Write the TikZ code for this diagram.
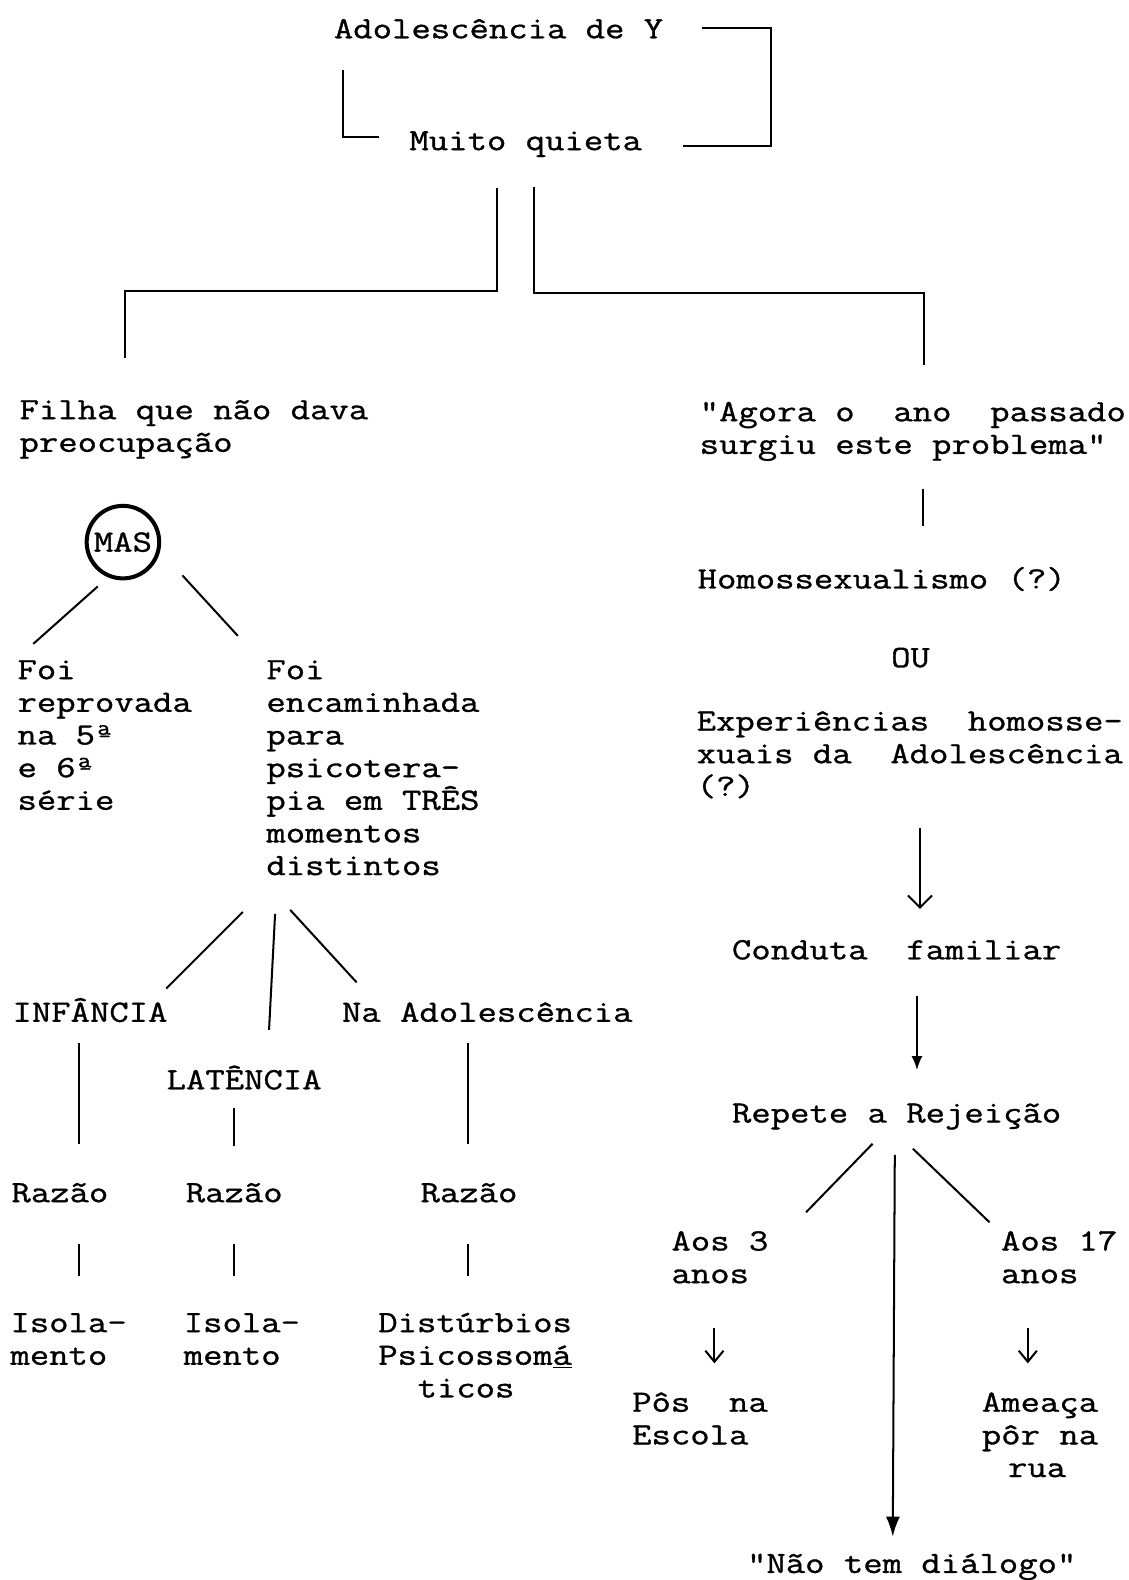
\documentclass[tikz,border=0pt]{standalone}
\usepackage{fontspec}
\setmainfont{Latin Modern Mono}[Ligatures=TeXOff, FakeStretch=1.215, FakeBold=1.0]
\usetikzlibrary{arrows.meta}

% several typed lines, first baseline on the node's base, fixed line pitch
\newcommand\typed[1]{\vtop{\lineskiplimit=-\maxdimen\halign{##\hfil\cr#1\crcr}}}

\begin{document}
\begin{tikzpicture}[x=0.5pt,y=-0.5pt,
  font=\fontsize{15.36}{16.2}\selectfont,
  txt/.style={inner sep=0pt, anchor=base west},
  ln/.style={line width=1pt},
  barb/.style={ln,-{Straight Barb[length=6pt,width=12pt]}},
  head/.style={ln,-{Latex[length=7pt,width=5.5pt]}},
  longhead/.style={ln,-{Latex[length=10pt,width=7pt]}},
  smallbarb/.style={line width=1pt,-{Straight Barb[length=5.5pt,width=9pt]}},
  masring/.style={circle, draw, line width=2pt, minimum size=36pt, inner sep=0pt}
]
\fill[white] (0,0) rectangle (1120,1568);
\useasboundingbox (0,0) rectangle (1120,1568);

% ---- heading ----
\node[txt] (top) at (331,38) {Adolescência de Y};
\node[txt] (quiet) at (406,149) {Muito quieta};

\coordinate (brA1) at (697,28);
\coordinate (brA2) at (765,28);
\coordinate (brA3) at (765,145);
\coordinate (brA4) at (678,145);
\draw[ln] (brA1) -- (brA2) -- (brA3) -- (brA4);

\coordinate (brB1) at (340,69);
\coordinate (brB2) at (340,136);
\coordinate (brB3) at (376,136);
\draw[ln] (brB1) -- (brB2) -- (brB3);

% ---- split into two branches ----
\coordinate (tL1) at (493,187);
\coordinate (tL2) at (493,289);
\coordinate (tL3) at (124,289);
\coordinate (tL4) at (124,355);
\draw[ln] (tL1) -- (tL2) -- (tL3) -- (tL4);

\coordinate (tR1) at (530,186);
\coordinate (tR2) at (530,291);
\coordinate (tR3) at (917,291);
\coordinate (tR4) at (917,362);
\draw[ln] (tR1) -- (tR2) -- (tR3) -- (tR4);

% ---- left branch ----
\node[txt] (filha) at (19,416) {\typed{Filha que não dava\cr preocupação}};

\node[masring] (mas) at (122,538) {MAS};

\coordinate (masL1) at (97,582);
\coordinate (masL2) at (33,639);
\coordinate (masR1) at (181,571);
\coordinate (masR2) at (236,631);
\draw[ln] (masL1) -- (masL2);
\draw[ln] (masR1) -- (masR2);

\node[txt] (reprov) at (17,674) {\typed{Foi\cr reprovada\cr na 5ª\cr e 6ª\cr série}};
\node[txt] (encam) at (264,674) {\typed{Foi\cr encaminhada\cr para\cr psicotera-\cr pia em TRÊS\cr momentos\cr distintos}};

\coordinate (eA1) at (241,905);
\coordinate (eA2) at (165,981);
\coordinate (eB1) at (273,907);
\coordinate (eB2) at (267,1022);
\coordinate (eC1) at (288,903);
\coordinate (eC2) at (354,975);
\draw[ln] (eA1) -- (eA2);
\draw[ln] (eB1) -- (eB2);
\draw[ln] (eC1) -- (eC2);

\node[txt] (inf) at (12,1014) {INFÂNCIA};
\node[txt] (lat) at (165,1081) {LATÊNCIA};
\node[txt] (nadol) at (339,1014) {Na Adolescência};

\coordinate (v1a) at (78,1035);  \coordinate (v1b) at (78,1135);
\coordinate (v2a) at (232,1100); \coordinate (v2b) at (232,1137);
\coordinate (v3a) at (464,1035); \coordinate (v3b) at (464,1135);
\draw[ln] (v1a) -- (v1b);
\draw[ln] (v2a) -- (v2b);
\draw[ln] (v3a) -- (v3b);

\node[txt] (raz1) at (11,1193) {Razão};
\node[txt] (raz2) at (184,1193) {Razão};
\node[txt] (raz3) at (417,1193) {Razão};

\coordinate (w1a) at (78,1235);  \coordinate (w1b) at (78,1266);
\coordinate (w2a) at (232,1235); \coordinate (w2b) at (232,1266);
\coordinate (w3a) at (464,1235); \coordinate (w3b) at (464,1266);
\draw[ln] (w1a) -- (w1b);
\draw[ln] (w2a) -- (w2b);
\draw[ln] (w3a) -- (w3b);

\node[txt] (iso1) at (10,1322) {\typed{Isola-\cr mento}};
\node[txt] (iso2) at (182,1322) {\typed{Isola-\cr mento}};
\node[txt] (dist) at (375,1322) {\typed{Distúrbios\cr Psicossom\underline{á}\cr \hspace*{19.5pt}ticos}};

% ---- right branch ----
\node[txt] (agora) at (694,418) {\typed{"Agora o~~ano~~passado\cr surgiu este problema"}};

\coordinate (r1a) at (916,485);
\coordinate (r1b) at (916,522);
\draw[ln] (r1a) -- (r1b);

\node[txt] (homo) at (692,584) {Homossexualismo (?)};
\node[txt] (ou) at (884,662) {OU};
\node[txt] (exper) at (691,725) {\typed{Experiências~~homosse-\cr xuais da~~Adolescência\cr (?)}};

\coordinate (a1a) at (913,822);
\coordinate (a1b) at (913,902);
\draw[barb] (a1a) -- (a1b);

\node[txt] (cond) at (726,952) {Conduta~~familiar};

\coordinate (a2a) at (910,988);
\coordinate (a2b) at (910,1062);
\draw[head] (a2a) -- (a2b);

\node[txt] (rep) at (726,1114) {Repete a Rejeição};

\coordinate (p1a) at (866,1135);
\coordinate (p1b) at (800,1203);
\coordinate (p2a) at (906,1140);
\coordinate (p2b) at (982,1213);
\coordinate (p3a) at (888,1146);
\coordinate (p3b) at (886,1525);
\draw[ln] (p1a) -- (p1b);
\draw[ln] (p2a) -- (p2b);
\draw[longhead] (p3a) -- (p3b);

\node[txt] (aos3) at (666,1241) {\typed{Aos 3\cr anos}};
\node[txt] (aos17) at (993,1241) {\typed{Aos 17\cr anos}};

\coordinate (s1a) at (709,1318);
\coordinate (s1b) at (709,1353);
\coordinate (s2a) at (1020,1318);
\coordinate (s2b) at (1020,1353);
\draw[smallbarb] (s1a) -- (s1b);
\draw[smallbarb] (s2a) -- (s2b);

\node[txt] (pos) at (627,1401) {\typed{Pôs~~na\cr Escola}};
\node[txt] (ameaca) at (974,1401) {\typed{Ameaça\cr pôr na\cr \hspace*{13pt}rua}};

\node[txt] (dialogo) at (741,1561) {"Não tem diálogo"};
\end{tikzpicture}
\end{document}
